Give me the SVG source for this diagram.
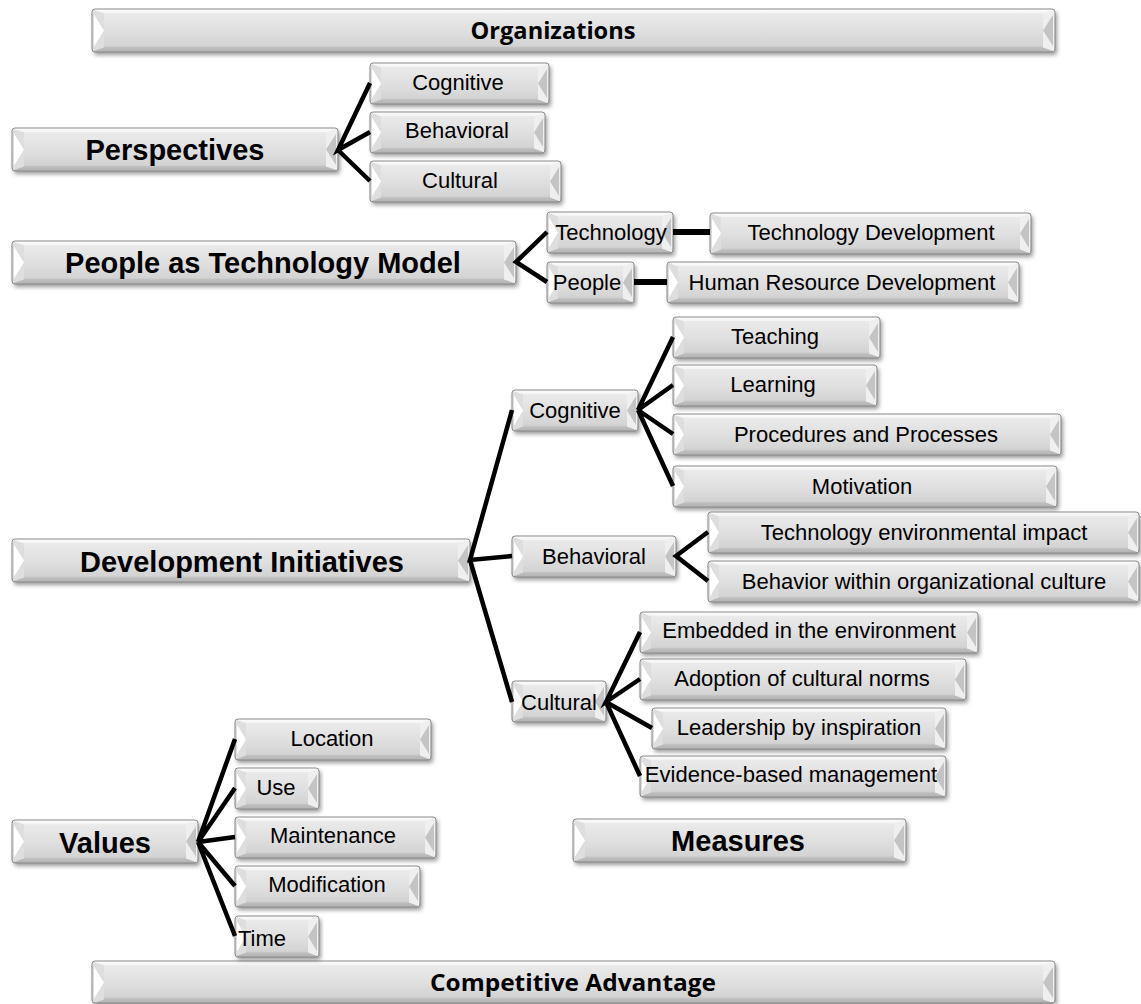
<svg xmlns="http://www.w3.org/2000/svg" xmlns:xlink="http://www.w3.org/1999/xlink" width="1141" height="1004" viewBox="0 0 1141 1004">
  <defs>
    <linearGradient id="face" x1="0" y1="0" x2="0" y2="1">
      <stop offset="0" stop-color="#fdfdfd"/>
      <stop offset="0.09" stop-color="#f4f4f4"/>
      <stop offset="0.11" stop-color="#eaeaea"/>
      <stop offset="0.5" stop-color="#e0e0e0"/>
      <stop offset="0.86" stop-color="#d3d3d3"/>
      <stop offset="0.9" stop-color="#bebebe"/>
      <stop offset="1" stop-color="#b3b3b3"/>
    </linearGradient>
    <filter id="shadow" x="-5%" y="-20%" width="110%" height="150%">
      <feDropShadow dx="2" dy="3" stdDeviation="2" flood-color="#000" flood-opacity="0.4"/>
    </filter>
    <!-- bevel end caps, small boxes (height 41) -->
    <g id="cl">
      <path d="M0.5,0.5 L11,4.5 L11,36.5 L0.5,40.5 Z" fill="#dedede"/>
      <path d="M2,5.5 L11,20.5 L2,35.5 Z" fill="#ffffff"/>
    </g>
    <g id="cr">
      <path d="M-0.5,0.5 L-11,4.5 L-11,36.5 L-0.5,40.5 Z" fill="#efefef"/>
      <path d="M-2,6 L-11,20.5 L-2,35 Z" fill="#c4c4c4"/>
    </g>
    <!-- bevel end caps, large boxes (height 43) -->
    <g id="clb">
      <path d="M0.5,0.5 L12,4.5 L12,38.5 L0.5,42.5 Z" fill="#dedede"/>
      <path d="M2,5.5 L12,21.5 L2,37.5 Z" fill="#ffffff"/>
    </g>
    <g id="crb">
      <path d="M-0.5,0.5 L-12,4.5 L-12,38.5 L-0.5,42.5 Z" fill="#efefef"/>
      <path d="M-2,6 L-12,21.5 L-2,37 Z" fill="#c4c4c4"/>
    </g>
  </defs>
  <style>
    .b { fill: url(#face); filter: url(#shadow); }
    .e { fill: none; stroke: #8a8a8a; stroke-width: 1; }
    .t { font-family: "Liberation Sans", Arial, sans-serif; font-size: 22px; fill: #000; text-anchor: middle; }
    .h { font-family: "Liberation Sans", Arial, sans-serif; font-size: 29px; font-weight: bold; fill: #000; text-anchor: middle; }
    .c { font-family: "Open Sans", "Liberation Sans", sans-serif; font-size: 24px; font-weight: bold; fill: #000; text-anchor: middle; }
    .ln { fill: none; stroke: #000; stroke-width: 4.5; stroke-linecap: butt; stroke-linejoin: miter; }
    .lk { fill: none; stroke: #000; stroke-width: 6; }
  </style>

  <rect width="1141" height="1004" fill="#ffffff"/>

  <!-- headline bands -->
  <g id="organizations">
    <rect class="b" x="92" y="9" width="963" height="43" rx="3"/>
    <use href="#clb" x="92" y="9"/><use href="#crb" x="1055" y="9"/>
    <rect class="e" x="92" y="9" width="963" height="43" rx="3"/>
    <text class="c" x="553" y="39" textLength="165" lengthAdjust="spacingAndGlyphs">Organizations</text>
  </g>
  <g id="competitive-advantage">
    <rect class="b" x="92" y="961" width="963" height="42" rx="3"/>
    <use href="#clb" x="92" y="961"/><use href="#crb" x="1055" y="961"/>
    <rect class="e" x="92" y="961" width="963" height="42" rx="3"/>
    <text class="c" x="573" y="991" textLength="286" lengthAdjust="spacingAndGlyphs">Competitive Advantage</text>
  </g>

  <!-- Perspectives branch -->
  <g id="perspectives">
    <rect class="b" x="12" y="128" width="326" height="43" rx="3"/>
    <use href="#clb" x="12" y="128"/><use href="#crb" x="338" y="128"/>
    <rect class="e" x="12" y="128" width="326" height="43" rx="3"/>
    <text class="h" x="175" y="160">Perspectives</text>
  </g>
  <g id="p-cognitive">
    <rect class="b" x="370" y="63" width="179" height="41" rx="3"/>
    <use href="#cl" x="370" y="63"/><use href="#cr" x="549" y="63"/>
    <rect class="e" x="370" y="63" width="179" height="41" rx="3"/>
    <text class="t" x="458" y="90">Cognitive</text>
  </g>
  <g id="p-behavioral">
    <rect class="b" x="370" y="112" width="175" height="41" rx="3"/>
    <use href="#cl" x="370" y="112"/><use href="#cr" x="545" y="112"/>
    <rect class="e" x="370" y="112" width="175" height="41" rx="3"/>
    <text class="t" x="457" y="138">Behavioral</text>
  </g>
  <g id="p-cultural">
    <rect class="b" x="370" y="161" width="191" height="41" rx="3"/>
    <use href="#cl" x="370" y="161"/><use href="#cr" x="561" y="161"/>
    <rect class="e" x="370" y="161" width="191" height="41" rx="3"/>
    <text class="t" x="460" y="188">Cultural</text>
  </g>

  <!-- People as Technology Model branch -->
  <g id="people-tech-model">
    <rect class="b" x="12" y="241" width="504" height="43" rx="3"/>
    <use href="#clb" x="12" y="241"/><use href="#crb" x="516" y="241"/>
    <rect class="e" x="12" y="241" width="504" height="43" rx="3"/>
    <text class="h" x="263" y="273">People as Technology Model</text>
  </g>
  <g id="technology">
    <rect class="b" x="547" y="212" width="126" height="41" rx="3"/>
    <use href="#cl" x="547" y="212"/><use href="#cr" x="673" y="212"/>
    <rect class="e" x="547" y="212" width="126" height="41" rx="3"/>
    <text class="t" x="611" y="240">Technology</text>
  </g>
  <g id="technology-development">
    <rect class="b" x="710" y="213" width="321" height="41" rx="3"/>
    <use href="#cl" x="710" y="213"/><use href="#cr" x="1031" y="213"/>
    <rect class="e" x="710" y="213" width="321" height="41" rx="3"/>
    <text class="t" x="871" y="240">Technology Development</text>
  </g>
  <g id="people">
    <rect class="b" x="547" y="262" width="87" height="41" rx="3"/>
    <use href="#cl" x="547" y="262"/><use href="#cr" x="634" y="262"/>
    <rect class="e" x="547" y="262" width="87" height="41" rx="3"/>
    <text class="t" x="587" y="290">People</text>
  </g>
  <g id="hr-development">
    <rect class="b" x="667" y="262" width="352" height="41" rx="3"/>
    <use href="#cl" x="667" y="262"/><use href="#cr" x="1019" y="262"/>
    <rect class="e" x="667" y="262" width="352" height="41" rx="3"/>
    <text class="t" x="842" y="290">Human  Resource Development</text>
  </g>

  <!-- Development Initiatives branch -->
  <g id="development-initiatives">
    <rect class="b" x="12" y="539" width="458" height="43" rx="3"/>
    <use href="#clb" x="12" y="539"/><use href="#crb" x="470" y="539"/>
    <rect class="e" x="12" y="539" width="458" height="43" rx="3"/>
    <text class="h" x="242" y="572">Development Initiatives</text>
  </g>
  <g id="d-cognitive">
    <rect class="b" x="512" y="390" width="126" height="41" rx="3"/>
    <use href="#cl" x="512" y="390"/><use href="#cr" x="638" y="390"/>
    <rect class="e" x="512" y="390" width="126" height="41" rx="3"/>
    <text class="t" x="575" y="418">Cognitive</text>
  </g>
  <g id="d-behavioral">
    <rect class="b" x="512" y="536" width="164" height="41" rx="3"/>
    <use href="#cl" x="512" y="536"/><use href="#cr" x="676" y="536"/>
    <rect class="e" x="512" y="536" width="164" height="41" rx="3"/>
    <text class="t" x="594" y="564">Behavioral</text>
  </g>
  <g id="d-cultural">
    <rect class="b" x="512" y="681" width="94" height="41" rx="3"/>
    <use href="#cl" x="512" y="681"/><use href="#cr" x="606" y="681"/>
    <rect class="e" x="512" y="681" width="94" height="41" rx="3"/>
    <text class="t" x="559" y="710">Cultural</text>
  </g>
  <g id="teaching">
    <rect class="b" x="673" y="317" width="207" height="41" rx="3"/>
    <use href="#cl" x="673" y="317"/><use href="#cr" x="880" y="317"/>
    <rect class="e" x="673" y="317" width="207" height="41" rx="3"/>
    <text class="t" x="775" y="344">Teaching</text>
  </g>
  <g id="learning">
    <rect class="b" x="673" y="365" width="204" height="41" rx="3"/>
    <use href="#cl" x="673" y="365"/><use href="#cr" x="877" y="365"/>
    <rect class="e" x="673" y="365" width="204" height="41" rx="3"/>
    <text class="t" x="773" y="392">Learning</text>
  </g>
  <g id="procedures">
    <rect class="b" x="673" y="414" width="388" height="41" rx="3"/>
    <use href="#cl" x="673" y="414"/><use href="#cr" x="1061" y="414"/>
    <rect class="e" x="673" y="414" width="388" height="41" rx="3"/>
    <text class="t" x="866" y="442">Procedures and Processes</text>
  </g>
  <g id="motivation">
    <rect class="b" x="673" y="466" width="384" height="41" rx="3"/>
    <use href="#cl" x="673" y="466"/><use href="#cr" x="1057" y="466"/>
    <rect class="e" x="673" y="466" width="384" height="41" rx="3"/>
    <text class="t" x="862" y="494">Motivation</text>
  </g>
  <g id="tech-impact">
    <rect class="b" x="708" y="512" width="431" height="41" rx="3"/>
    <use href="#cl" x="708" y="512"/><use href="#cr" x="1139" y="512"/>
    <rect class="e" x="708" y="512" width="431" height="41" rx="3"/>
    <text class="t" x="924" y="540">Technology environmental impact</text>
  </g>
  <g id="behavior-culture">
    <rect class="b" x="708" y="561" width="431" height="41" rx="3"/>
    <use href="#cl" x="708" y="561"/><use href="#cr" x="1139" y="561"/>
    <rect class="e" x="708" y="561" width="431" height="41" rx="3"/>
    <text class="t" x="924" y="589">Behavior within organizational culture</text>
  </g>
  <g id="embedded">
    <rect class="b" x="640" y="612" width="338" height="41" rx="3"/>
    <use href="#cl" x="640" y="612"/><use href="#cr" x="978" y="612"/>
    <rect class="e" x="640" y="612" width="338" height="41" rx="3"/>
    <text class="t" x="809" y="638">Embedded in the environment</text>
  </g>
  <g id="adoption">
    <rect class="b" x="640" y="659" width="326" height="41" rx="3"/>
    <use href="#cl" x="640" y="659"/><use href="#cr" x="966" y="659"/>
    <rect class="e" x="640" y="659" width="326" height="41" rx="3"/>
    <text class="t" x="802" y="686">Adoption of cultural norms</text>
  </g>
  <g id="leadership">
    <rect class="b" x="652" y="708" width="294" height="41" rx="3"/>
    <use href="#cl" x="652" y="708"/><use href="#cr" x="946" y="708"/>
    <rect class="e" x="652" y="708" width="294" height="41" rx="3"/>
    <text class="t" x="799" y="735">Leadership by inspiration</text>
  </g>
  <g id="evidence">
    <rect class="b" x="640" y="756" width="306" height="41" rx="3"/>
    <use href="#cl" x="640" y="756"/><use href="#cr" x="946" y="756"/>
    <rect class="e" x="640" y="756" width="306" height="41" rx="3"/>
    <text class="t" x="791" y="782">Evidence-based management</text>
  </g>
  <g id="measures">
    <rect class="b" x="573" y="819" width="333" height="43" rx="3"/>
    <use href="#clb" x="573" y="819"/><use href="#crb" x="906" y="819"/>
    <rect class="e" x="573" y="819" width="333" height="43" rx="3"/>
    <text class="h" x="738" y="851">Measures</text>
  </g>

  <!-- Values branch -->
  <g id="values">
    <rect class="b" x="12" y="820" width="186" height="43" rx="3"/>
    <use href="#clb" x="12" y="820"/><use href="#crb" x="198" y="820"/>
    <rect class="e" x="12" y="820" width="186" height="43" rx="3"/>
    <text class="h" x="105" y="853">Values</text>
  </g>
  <g id="location">
    <rect class="b" x="235" y="719" width="196" height="41" rx="3"/>
    <use href="#cl" x="235" y="719"/><use href="#cr" x="431" y="719"/>
    <rect class="e" x="235" y="719" width="196" height="41" rx="3"/>
    <text class="t" x="332" y="746">Location</text>
  </g>
  <g id="use">
    <rect class="b" x="235" y="768" width="84" height="41" rx="3"/>
    <use href="#cl" x="235" y="768"/><use href="#cr" x="319" y="768"/>
    <rect class="e" x="235" y="768" width="84" height="41" rx="3"/>
    <text class="t" x="276" y="795">Use</text>
  </g>
  <g id="maintenance">
    <rect class="b" x="235" y="817" width="201" height="41" rx="3"/>
    <use href="#cl" x="235" y="817"/><use href="#cr" x="436" y="817"/>
    <rect class="e" x="235" y="817" width="201" height="41" rx="3"/>
    <text class="t" x="333" y="843">Maintenance</text>
  </g>
  <g id="modification">
    <rect class="b" x="235" y="866" width="185" height="41" rx="3"/>
    <use href="#cl" x="235" y="866"/><use href="#cr" x="420" y="866"/>
    <rect class="e" x="235" y="866" width="185" height="41" rx="3"/>
    <text class="t" x="327" y="892">Modification</text>
  </g>
  <g id="time">
    <rect class="b" x="235" y="916" width="84" height="41" rx="3"/>
    <use href="#cl" x="235" y="916"/><use href="#cr" x="319" y="916"/>
    <rect class="e" x="235" y="916" width="84" height="41" rx="3"/>
    <text class="t" x="262" y="946">Time</text>
  </g>

  <!-- connectors -->
  <g id="connectors">
    <path class="ln" d="M370,83 L338,150 L370,132 M338,150 L370,181"/>
    <path class="ln" d="M547,232 L516,262 L547,282"/>
    <path class="lk" d="M673,232 L710,232 M634,282 L667,282"/>
    <path class="ln" d="M512,410 L470,560 L512,556 M470,560 L512,702"/>
    <path class="ln" d="M673,337 L638,410 L673,385 M638,410 L673,434 M638,410 L673,486"/>
    <path class="ln" d="M708,532 L676,556 L708,581"/>
    <path class="ln" d="M640,632 L606,702 L640,679 M606,702 L652,728 M606,702 L640,776"/>
    <path class="ln" d="M235,739 L198,842 L235,788 M198,842 L235,837 M198,842 L235,886 M198,842 L235,936"/>
  </g>
</svg>
